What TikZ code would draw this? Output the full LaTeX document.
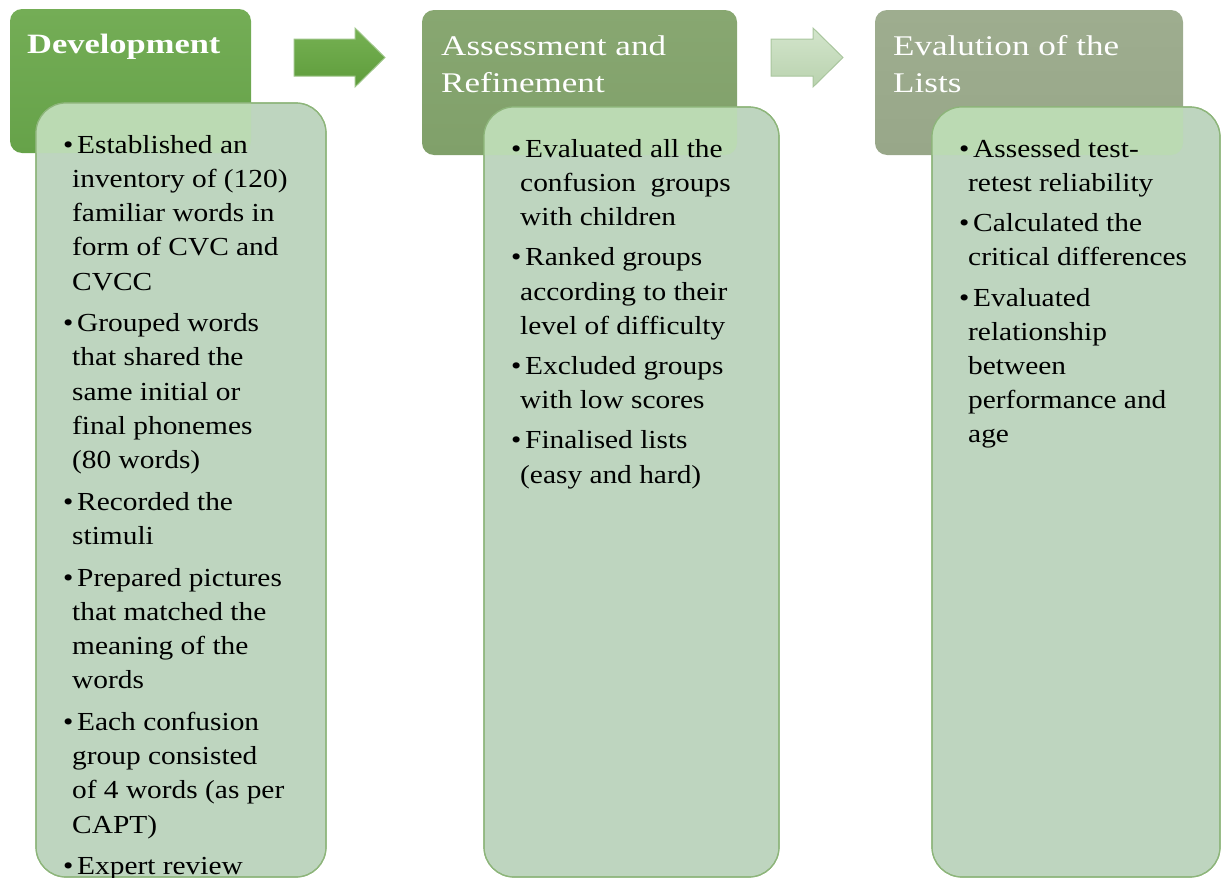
\documentclass[tikz,border=0pt]{standalone}
\usepackage{fontspec}
\setmainfont{Liberation Serif}
\newfontfamily\bodyfont[FakeStretch=1.13]{Liberation Serif}
\newfontfamily\headfont[FakeStretch=1.23]{Liberation Serif}
\definecolor{hAtop}{HTML}{74AD56}
\definecolor{hAbot}{HTML}{66A249}
\definecolor{hBtop}{HTML}{88A771}
\definecolor{hBbot}{HTML}{80A06A}
\definecolor{hCtop}{HTML}{9EAD8F}
\definecolor{hCbot}{HTML}{98A789}
\definecolor{bodyfill}{HTML}{BED5BF}
\definecolor{overfill}{HTML}{BBDAB3}
\definecolor{bodyline}{HTML}{8DB57A}
\definecolor{arAtop}{HTML}{76B153}
\definecolor{arAbot}{HTML}{5E9C3B}
\definecolor{arAline}{HTML}{9CC487}
\definecolor{arBtop}{HTML}{D3E5CC}
\definecolor{arBbot}{HTML}{B9D2AE}
\definecolor{arBline}{HTML}{A9C69E}
\newcommand{\mybul}{\makebox[14pt][l]{\textbullet}}
\newcommand{\myind}{\hspace*{9pt}}
\newcommand{\mystrut}{\rule{0pt}{30pt}}
\begin{document}
\begin{tikzpicture}[x=1pt,y=-1pt,
  headbox/.style={rectangle, rounded corners=12pt, inner sep=0pt, outer sep=0pt},
  bodybox/.style={rectangle, rounded corners=30pt, draw=bodyline, line width=1.2pt, fill=bodyfill, inner sep=0pt, outer sep=0pt},
  bodyline/.style={draw=bodyline, line width=1.2pt, rounded corners=30pt},
  bodytext/.style={font=\bodyfont\fontsize{26}{34.2}\selectfont, align=left, inner sep=0pt, anchor=north west, text=black},
  headtext/.style={font=\headfont\fontsize{28.5}{37}\selectfont, align=left, inner sep=0pt, anchor=north west, text=white},
  blockarrow/.style={line width=1pt}
]
\useasboundingbox (0,0) rectangle (1221,878);

% headers
\node[headbox, top color=hAtop, bottom color=hAbot, minimum width=241pt, minimum height=144pt] (h1) at (130.5,81) {};
\node[headbox, top color=hBtop, bottom color=hBbot, minimum width=315pt, minimum height=145pt] (h2) at (579.5,82.5) {};
\node[headbox, top color=hCtop, bottom color=hCbot, minimum width=308pt, minimum height=145pt] (h3) at (1029,82.5) {};

% block arrows
\shade[blockarrow, draw=arAline, top color=arAtop, bottom color=arAbot]
  (294,39) -- (355,39) -- (355,28) -- (385,57.5) -- (355,87) -- (355,76) -- (294,76) -- cycle;
\shade[blockarrow, draw=arBline, top color=arBtop, bottom color=arBbot]
  (771,39) -- (813,39) -- (813,28) -- (843,57.5) -- (813,87) -- (813,76) -- (771,76) -- cycle;

% bodies
\node[bodybox, minimum width=290pt, minimum height=774pt] (b1) at (181,490) {};
\node[bodybox, minimum width=295pt, minimum height=770pt] (b2) at (631.5,492) {};
\node[bodybox, minimum width=288pt, minimum height=770pt] (b3) at (1076,492) {};

% overlap of bodies on headers
\foreach \h/\b in {h1/b1, h2/b2, h3/b3}{
  \begin{scope}
    \clip[rounded corners=12pt] (\h.north west) rectangle (\h.south east);
    \fill[overfill, rounded corners=30pt] (\b.north west) rectangle (\b.south east);
  \end{scope}
  \draw[bodyline] (\b.north west) rectangle (\b.south east);
}

% header texts
\node[headtext, font=\headfont\bfseries\fontsize{28}{37}\selectfont] (t1) at (27,23) {\mystrut Development};
\node[headtext] (t2) at (441,25) {\mystrut Assessment and\\Refinement};
\node[headtext] (t3) at (893,25) {\mystrut Evalution of the\\Lists};

% body texts
\node[bodytext] (l1) at (63,123) {\mystrut\mybul Established an\\
\myind inventory of (120)\\
\myind familiar words in\\
\myind form of CVC and\\
\myind CVCC\\[7.5pt]
\mybul Grouped words\\
\myind that shared the\\
\myind same initial or\\
\myind final phonemes\\
\myind (80 words)\\[7.5pt]
\mybul Recorded the\\
\myind stimuli\\[7.5pt]
\mybul Prepared pictures\\
\myind that matched the\\
\myind meaning of the\\
\myind words\\[7.5pt]
\mybul Each confusion\\
\myind group consisted\\
\myind of 4 words (as per\\
\myind CAPT)\\[7.5pt]
\mybul Expert review};

\node[bodytext] (l2) at (511,127) {\mystrut\mybul Evaluated all the\\
\myind confusion\ \ groups\\
\myind with children\\[6pt]
\mybul Ranked groups\\
\myind according to their\\
\myind level of difficulty\\[6pt]
\mybul Excluded groups\\
\myind with low scores\\[6pt]
\mybul Finalised lists\\
\myind (easy and hard)};

\node[bodytext] (l3) at (959,127) {\mystrut\mybul Assessed test-\\
\myind retest reliability\\[6pt]
\mybul Calculated the\\
\myind critical differences\\[6pt]
\mybul Evaluated\\
\myind relationship\\
\myind between\\
\myind performance and\\
\myind age};
\end{tikzpicture}
\end{document}
